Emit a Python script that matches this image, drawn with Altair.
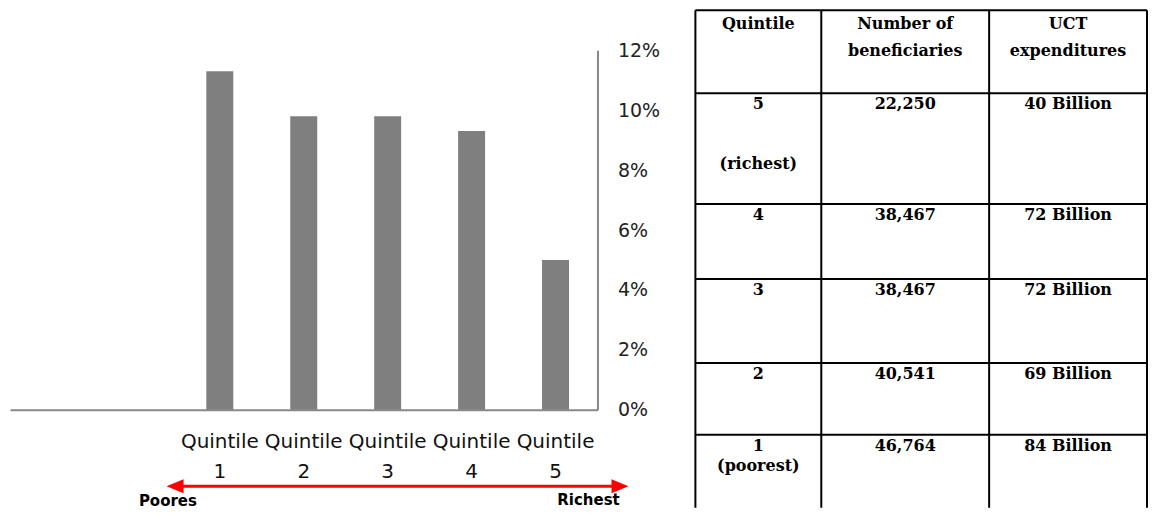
import altair as alt
import pandas as pd

# ---------------- data ----------------
categories = ["Quintile 1", "Quintile 2", "Quintile 3", "Quintile 4", "Quintile 5"]
shares = [0.113, 0.098, 0.098, 0.093, 0.050]
empty_slots = ["slot_a", "slot_b"]          # two empty category slots left of Quintile 1
y_ticks = [0, 0.02, 0.04, 0.06, 0.08, 0.10, 0.12]

arrow_left_label = "Poores"
arrow_right_label = "Richest"

table_header = ["Quintile", "Number of\nbeneficiaries", "UCT\nexpenditures"]
table_quintile = ["5", "4", "3", "2", "1"]
table_notes = ["(richest)", "", "", "", "(poorest)"]
table_beneficiaries = ["22,250", "38,467", "38,467", "40,541", "46,764"]
table_expenditures = ["40 Billion", "72 Billion", "72 Billion", "69 Billion", "84 Billion"]

# ---------------- layout (pixels) ----------------
BAND = 84
PLOT_W = BAND * 7
PLOT_H = 401
Y_TOP = 41
AXIS_GREY = "#888888"
RED = "#ff0000"

TABLE_W = 452
TABLE_H = 499
col_edges = [0, 126, 294, 452]
row_edges = [1, 84, 195, 270, 354, 426]
HEADER_BASE = 19
BODY_BASE = 16
note_gap = [60, 0, 0, 0, 20]   # vertical gap of the note line below the quintile number

# ---------------- bar chart ----------------
bars_df = pd.DataFrame({"cat": categories, "share": shares})
x_domain = empty_slots + categories

bars = alt.Chart(bars_df).mark_bar(size=27, color="#7f7f7f").encode(
    x=alt.X(
        "cat:N",
        sort=x_domain,
        scale=alt.Scale(domain=x_domain, paddingInner=0, paddingOuter=0),
        axis=alt.Axis(
            title=None,
            labelExpr="indexof(datum.value, 'Quintile') == 0 ? split(datum.value, ' ') : ''",
            ticks=False, tickSize=0,
            domainColor=AXIS_GREY, domainWidth=2,
            labelAngle=0, labelFont="DejaVu Sans", labelFontSize=20, labelColor="#111111",
            labelPadding=22, labelLineHeight=30, labelBaseline="top", labelAlign="center",
            labelOverlap=False,
        ),
    ),
    y=alt.Y(
        "share:Q",
        scale=alt.Scale(domain=[0, 0.12], range=[PLOT_H, Y_TOP], nice=False, zero=True),
        axis=alt.Axis(
            orient="right", values=y_ticks, format=".0%", title=None, grid=False,
            ticks=False, tickSize=0, domainColor=AXIS_GREY, domainWidth=2,
            labelFont="DejaVu Sans", labelFontSize=19, labelColor="#222222",
            labelPadding=20, labelAlign="left", labelBaseline="middle",
        ),
    ),
)

one = pd.DataFrame({"k": [0]})
arrow_line = alt.Chart(one).mark_rule(color=RED, strokeWidth=3).encode(
    x=alt.value(168), x2=alt.value(606), y=alt.value(477.5)
)
head_left = alt.Chart(one).mark_point(
    shape="M-1,0L1,-0.82L1,0.82Z", filled=True, size=289, color=RED, opacity=1
).encode(x=alt.value(165.2), y=alt.value(477.5))
head_right = alt.Chart(one).mark_point(
    shape="M1,0L-1,-0.82L-1,0.82Z", filled=True, size=289, color=RED, opacity=1
).encode(x=alt.value(610.5), y=alt.value(477.5))

lbl_df = pd.DataFrame({"t": [arrow_left_label]})
lbl_left = alt.Chart(lbl_df).mark_text(
    font="DejaVu Sans", fontWeight="bold", fontSize=15, color="#000000",
    align="center", baseline="middle"
).encode(text="t:N", x=alt.value(158), y=alt.value(492))
lbr_df = pd.DataFrame({"t": [arrow_right_label]})
lbl_right = alt.Chart(lbr_df).mark_text(
    font="DejaVu Sans", fontWeight="bold", fontSize=15, color="#000000",
    align="center", baseline="middle"
).encode(text="t:N", x=alt.value(579), y=alt.value(491))

left = alt.layer(bars, arrow_line, head_left, head_right, lbl_left, lbl_right).properties(
    width=PLOT_W, height=PLOT_H
)

# ---------------- table ----------------
centers = [(col_edges[i] + col_edges[i + 1]) / 2 for i in range(3)]
xs = alt.Scale(domain=[0, TABLE_W], nice=False, zero=False)
ys = alt.Scale(domain=[0, TABLE_H], nice=False, zero=False, reverse=True)

vlines = pd.DataFrame({"x": col_edges, "y": [row_edges[0]] * len(col_edges), "y2": [TABLE_H] * len(col_edges)})
hlines = pd.DataFrame({"y": row_edges, "x": [0] * len(row_edges), "x2": [TABLE_W] * len(row_edges)})

v_rules = alt.Chart(vlines).mark_rule(color="#000000", strokeWidth=2).encode(
    x=alt.X("x:Q", scale=xs, axis=None),
    y=alt.Y("y:Q", scale=ys, axis=None),
    y2="y2:Q",
)
h_rules = alt.Chart(hlines).mark_rule(color="#000000", strokeWidth=2).encode(
    x=alt.X("x:Q", scale=xs, axis=None),
    x2="x2:Q",
    y=alt.Y("y:Q", scale=ys, axis=None),
)

header_df = pd.DataFrame({
    "x": centers,
    "y": [row_edges[0] + HEADER_BASE] * 3,
    "t": table_header,
})
body_rows = []
for i in range(5):
    base = row_edges[i + 1] + BODY_BASE
    for j, col in enumerate([table_quintile, table_beneficiaries, table_expenditures]):
        body_rows.append({"x": centers[j], "y": base, "t": col[i]})
    if table_notes[i]:
        body_rows.append({"x": centers[0], "y": base + note_gap[i], "t": table_notes[i]})
body_df = pd.DataFrame(body_rows)

header_text = alt.Chart(header_df).mark_text(
    font="DejaVu Serif", fontWeight="bold", fontSize=16, color="#000000",
    align="center", baseline="alphabetic", lineBreak="\n", lineHeight=27
).encode(
    x=alt.X("x:Q", scale=xs, axis=None),
    y=alt.Y("y:Q", scale=ys, axis=None),
    text="t:N",
)
body_text = alt.Chart(body_df).mark_text(
    font="DejaVu Serif", fontWeight="bold", fontSize=16, color="#000000",
    align="center", baseline="alphabetic"
).encode(
    x=alt.X("x:Q", scale=xs, axis=None),
    y=alt.Y("y:Q", scale=ys, axis=None),
    text="t:N",
)

table = alt.layer(v_rules, h_rules, header_text, body_text).properties(
    width=TABLE_W, height=TABLE_H
)

chart = alt.hconcat(left, table, spacing=98, bounds="flush").properties(
    padding={"left": 1, "top": 0, "right": 0, "bottom": 0}
).configure_view(stroke="transparent")

chart.save("out.html", embed_options={"renderer": "svg", "actions": False})
